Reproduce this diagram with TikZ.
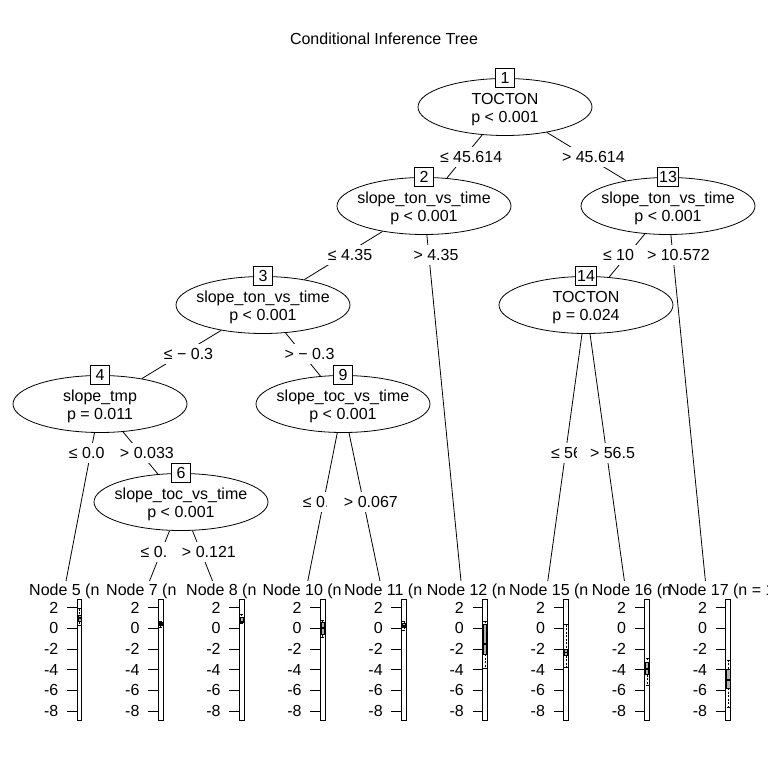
\documentclass[tikz,border=0pt]{standalone}
\usepackage{fontspec}
\setmainfont{Liberation Sans}
\usetikzlibrary{shapes.geometric}
% node text lines that do not widen their ellipse; the first one carries a tall strut
\newcommand\ctr[1]{\makebox[0pt]{#1}}
\newcommand\firstln[1]{\rule{0pt}{16.5pt}\makebox[0pt]{#1}}
\begin{document}
\begin{tikzpicture}[x=1pt,y=-1pt,
  every node/.style={font=\fontsize{16}{18.7}\selectfont},
  inode/.style={ellipse,draw,line width=0.8pt,fill=white,minimum width=174pt,minimum height=57pt,inner sep=0pt,align=center},
  idbox/.style={draw,line width=0.8pt,fill=white,minimum width=19pt,minimum height=19pt,inner sep=1.5pt},
  conn/.style={line width=0.8pt},
  cutlabel/.style={fill=white,inner xsep=1.5pt,inner ysep=4.25pt,text height=11.5pt,text depth=0pt},
  panel/.style={line width=0.8pt,fill=white},
  whisk/.style={line width=0.6pt,dash pattern=on 2pt off 1.5pt},
  wcap/.style={line width=0.6pt},
  bxp/.style={line width=0.6pt,fill=gray!60},
  med/.style={line width=1.8pt}
]
\useasboundingbox (0,0) rectangle (768,768);

\node (title) at (384,39) {Conditional Inference Tree};

% inner nodes
\node[inode] (n1)  at (505,107) {\firstln{TOCTON}\\\ctr{p < 0.001}};
\node[inode] (n2)  at (424,206) {\firstln{slope\_ton\_vs\_time}\\\ctr{p < 0.001}};
\node[inode] (n13) at (668,206) {\firstln{slope\_ton\_vs\_time}\\\ctr{p < 0.001}};
\node[inode] (n3)  at (263,305) {\firstln{slope\_ton\_vs\_time}\\\ctr{p < 0.001}};
\node[inode] (n14) at (586,305) {\firstln{TOCTON}\\\ctr{p = 0.024}};
\node[inode] (n4)  at (100,404) {\firstln{slope\_tmp}\\\ctr{p = 0.011}};
\node[inode] (n9)  at (343,404) {\firstln{slope\_toc\_vs\_time}\\\ctr{p < 0.001}};
\node[inode] (n6)  at (181,502) {\firstln{slope\_toc\_vs\_time}\\\ctr{p < 0.001}};

% top ends of the terminal panels
\coordinate (t5)  at (66.0,581);
\coordinate (t7)  at (149.5,581);
\coordinate (t8)  at (212.6,581);
\coordinate (t10) at (307.8,581);
\coordinate (t11) at (380.0,581);
\coordinate (t12) at (461.0,581);
\coordinate (t15) at (547.8,581);
\coordinate (t16) at (624.4,581);
\coordinate (t17) at (705.4,581);

% connectors
\draw[conn] (n1) -- (n2);
\draw[conn] (n1) -- (n13);
\draw[conn] (n2) -- (n3);
\draw[conn] (n2) -- (t12);
\draw[conn] (n13) -- (n14);
\draw[conn] (n13) -- (t17);
\draw[conn] (n3) -- (n4);
\draw[conn] (n3) -- (n9);
\draw[conn] (n4) -- (t5);
\draw[conn] (n4) -- (n6);
\draw[conn] (n6) -- (t7);
\draw[conn] (n6) -- (t8);
\draw[conn] (n9) -- (t10);
\draw[conn] (n9) -- (t11);
\draw[conn] (n14) -- (t15);
\draw[conn] (n14) -- (t16);

% node numbers
\node[idbox] (id1)  at (n1.north)  {1};
\node[idbox] (id2)  at (n2.north)  {2};
\node[idbox] (id13) at (n13.north) {13};
\node[idbox] (id3)  at (n3.north)  {3};
\node[idbox] (id14) at (n14.north) {14};
\node[idbox] (id4)  at (n4.north)  {4};
\node[idbox] (id9)  at (n9.north)  {9};
\node[idbox] (id6)  at (n6.north)  {6};

% split labels
\node[cutlabel] (s1l)  at (471.1,156.5) {≤ 45.614};
\node[cutlabel] (s1r)  at (593.4,156.5) {> 45.614};
\node[cutlabel] (s2l)  at (350,255) {≤ 4.35};
\node[cutlabel] (s2r)  at (436,255) {> 4.35};
\node[cutlabel] (s13l) at (634.1,255) {≤ 10.572};
\node[cutlabel,inner xsep=12pt] (s13r) at (678.4,255) {> 10.572};
\node[cutlabel] (s3l)  at (188.5,354) {≤ − 0.3};
\node[cutlabel] (s3r)  at (309.5,354) {> − 0.3};
\node[cutlabel] (s4l)  at (95.6,453) {≤ 0.033};
\node[cutlabel,inner xsep=14.5pt] (s4r) at (146.9,453) {> 0.033};
\node[cutlabel] (s14l) at (573.2,453) {≤ 56.5};
\node[cutlabel,inner xsep=13.3pt] (s14r) at (612.5,453) {> 56.5};
\node[cutlabel] (s9l)  at (329.6,502) {≤ 0.067};
\node[cutlabel,inner xsep=16.7pt] (s9r) at (370.9,502) {> 0.067};
\node[cutlabel] (s6l)  at (167.3,552) {≤ 0.121};
\node[cutlabel,inner xsep=16pt] (s6r) at (208.9,552) {> 0.121};

% terminal panels: node, panel left, header start, header, whisker/box/median/box/whisker
\foreach \k/\bx/\hx/\htxt/\wa/\ba/\mm/\bz/\wz in {
  5/77.0/29/{Node 5 (n}/1.9/1.3/1.03/0.65/0.3,
  7/158.1/106/{Node 7 (n}/0.7/0.55/0.39/0.25/0.1,
  8/239.2/186/{Node 8 (n}/1.35/1.1/0.62/0.6/0.45,
  10/320.3/262.3/{Node 10 (n}/0.75/0.55/0.0/-0.6/-0.85,
  11/401.4/344/{Node 11 (n}/0.65/0.45/0.25/0.1/-0.15,
  12/482.5/426.7/{Node 12 (n}/0.7/0.4/-1.55/-2.5/-3.9,
  15/563.6/509/{Node 15 (n}/0.35/-2.0/-2.35/-2.65/-3.8,
  16/644.7/591.7/{Node 16 (n}/-2.9/-3.3/-3.95/-4.5/-5.5,
  17/725.8/668/{Node 17 (n = 1}/-3.05/-3.95/-5.0/-5.8/-7.6} {
  \node[anchor=base west,inner sep=0pt] (head\k) at (\hx,595.7) {\htxt};
  \draw[panel] (\bx,599) rectangle ++(4.8,121);
  \foreach \v in {2,0,-2,-4,-6,-8} {
    \pgfmathsetmacro\yv{628.3-10.33*(\v)}
    \draw[conn] (\bx-10,\yv) -- (\bx,\yv);
    \node[anchor=east,inner sep=0pt] (tick\k\v) at (\bx-18.5,\yv) {\v};
  }
  \pgfmathsetmacro\cx{\bx+2.4}
  \pgfmathsetmacro\ywa{628.3-10.33*(\wa)}
  \pgfmathsetmacro\yba{628.3-10.33*(\ba)}
  \pgfmathsetmacro\ymm{628.3-10.33*(\mm)}
  \pgfmathsetmacro\ybz{628.3-10.33*(\bz)}
  \pgfmathsetmacro\ywz{628.3-10.33*(\wz)}
  \draw[whisk] (\cx,\ywa) -- (\cx,\yba);
  \draw[whisk] (\cx,\ybz) -- (\cx,\ywz);
  \draw[wcap] (\cx-1.6,\ywa) -- (\cx+1.6,\ywa);
  \draw[wcap] (\cx-1.6,\ywz) -- (\cx+1.6,\ywz);
  \draw[bxp] (\cx-1.6,\yba) rectangle (\cx+1.6,\ybz);
  \draw[med] (\cx-1.6,\ymm) -- (\cx+1.6,\ymm);
}
\end{tikzpicture}
\end{document}
